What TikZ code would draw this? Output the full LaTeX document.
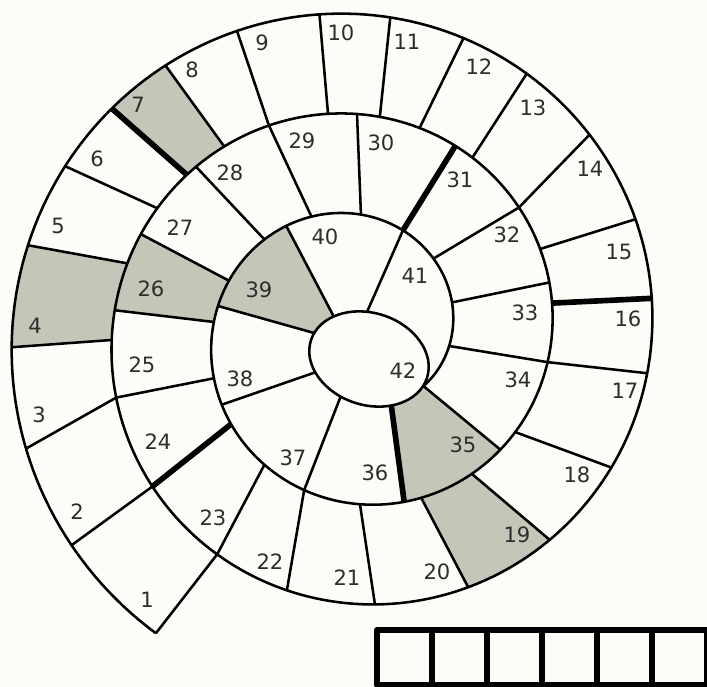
\documentclass[tikz,border=0pt]{standalone}
\usepackage{fontspec}
\setmainfont{DejaVu Sans}
\usepackage{tikz}

\definecolor{paper}{RGB}{253,253,248}
\definecolor{shaded}{RGB}{197,198,184}
\definecolor{ink}{RGB}{45,45,45}

\begin{document}
\begin{tikzpicture}[line width=1.45pt, line join=round,
                        declare function={rs(\x)=6.9-2*\x/360;
                            ex(\x)=0.24+1.22*cos(\x)*cos(18)+0.92*sin(\x)*sin(18);
                            ey(\x)=-0.50-1.22*cos(\x)*sin(18)+0.92*sin(\x)*cos(18);},
                        num/.style={font=\fontsize{12}{14}\selectfont, text=ink, inner sep=0pt},
                        heavy/.style={line width=3.2pt},
                        box/.style={line width=3.4pt}]
                        \useasboundingbox (-7.14,-7.06) rectangle (7.00,6.68);
                        \clip (-7.14,-7.06) rectangle (7.00,6.68);
                        \fill[paper] (-7.14,-7.06) rectangle (7.00,6.68);

                        % Points on the spiral
                        \coordinate (tip) at ({180-(-56.1)}:{rs(-56.1)});
                        \coordinate (o1) at ({180-(-36.5)}:{rs(-36.5)});
                        \coordinate (o2) at ({180-(-19.1)}:{rs(-19.1)});
                        \coordinate (o3) at ({180-(-2.2)}:{rs(-2.2)});
                        \coordinate (o4) at ({180-15.1}:{rs(15.1)});
                        \coordinate (o5) at ({180-29.9}:{rs(29.9)});
                        \coordinate (o6) at ({180-42.6}:{rs(42.6)});
                        \coordinate (o7) at ({180-54.5}:{rs(54.5)});
                        \coordinate (o8) at ({180-68.4}:{rs(68.4)});
                        \coordinate (o9) at ({180-83.3}:{rs(83.3)});
                        \coordinate (o10) at ({180-96.0}:{rs(96.0)});
                        \coordinate (o11) at ({180-109.8}:{rs(109.8)});
                        \coordinate (o12) at ({180-123.1}:{rs(123.1)});
                        \coordinate (o13) at ({180-139.4}:{rs(139.4)});
                        \coordinate (o14) at ({180-157.6}:{rs(157.6)});
                        \coordinate (o15) at ({180-173.1}:{rs(173.1)});
                        \coordinate (o16) at ({180-187.7}:{rs(187.7)});
                        \coordinate (o17) at ({180-207.7}:{rs(207.7)});
                        \coordinate (o18) at ({180-226.9}:{rs(226.9)});
                        \coordinate (o19) at ({180-246.3}:{rs(246.3)});
                        \coordinate (o20) at ({180-266.2}:{rs(266.2)});
                        \coordinate (o21) at ({180-285.3}:{rs(285.3)});
                        \coordinate (o22) at ({180-302.4}:{rs(302.4)});

                        \coordinate (i1) at ({180-323.3}:{rs(323.3)});
                        \coordinate (i2) at ({180-345.2}:{rs(345.2)});
                        \coordinate (i3) at ({180-358.6}:{rs(358.6)});
                        \coordinate (i4) at ({180-377.1}:{rs(377.1)});
                        \coordinate (i5) at ({180-392.2}:{rs(392.2)});
                        \coordinate (i6) at ({180-403.1}:{rs(403.1)});
                        \coordinate (i7) at ({180-414.7}:{rs(414.7)});
                        \coordinate (i8) at ({180-427.1}:{rs(427.1)});
                        \coordinate (i9) at ({180-442.5}:{rs(442.5)});
                        \coordinate (i10) at ({180-456.0}:{rs(456.0)});
                        \coordinate (i11) at ({180-466.9}:{rs(466.9)});
                        \coordinate (i12) at ({180-483.2}:{rs(483.2)});
                        \coordinate (i13) at ({180-502.0}:{rs(502.0)});
                        \coordinate (i14) at ({180-515.1}:{rs(515.1)});
                        \coordinate (i15) at ({180-531.0}:{rs(531.0)});
                        \coordinate (i16) at ({180-548.4}:{rs(548.4)});
                        \coordinate (i17) at ({180-571.8}:{rs(571.8)});
                        \coordinate (i18) at ({180-590.6}:{rs(590.6)});
                        \coordinate (i19) at ({180-608.6}:{rs(608.6)});
                        \coordinate (i20) at ({180-629.0}:{rs(629.0)});
                        \coordinate (i21) at ({180-648.7}:{rs(648.7)});
                        \coordinate (i22) at ({180-665.3}:{rs(665.3)});

                        \coordinate (o25) at ({180-365.6}:{rs(365.6)});
                        \coordinate (o26) at ({180-384.8}:{rs(384.8)});
                        \coordinate (o27) at ({180-406.1}:{rs(406.1)});
                        \coordinate (o29) at ({180-450.0}:{rs(450.0)});
                        \coordinate (o30) at ({180-477.6}:{rs(477.6)});
                        \coordinate (o32) at ({180-525.0}:{rs(525.0)});
                        \coordinate (o34) at ({180-578.9}:{rs(578.9)});
                        \coordinate (o35) at ({180-614.3}:{rs(614.3)});

                        \coordinate (i23) at ({180-684.4}:{rs(684.4)});
                        \coordinate (i24) at ({180-702.8}:{rs(702.8)});
                        \coordinate (i25) at ({180-724.8}:{rs(724.8)});
                        \coordinate (i26) at ({180-742.6}:{rs(742.6)});
                        \coordinate (i27) at ({180-765.6}:{rs(765.6)});
                        \coordinate (i28) at ({180-788.8}:{rs(788.8)});
                        \coordinate (i29) at ({180-811.9}:{rs(811.9)});
                        \coordinate (i30) at ({180-833.9}:{rs(833.9)});
                        \coordinate (i31) at ({180-855.4}:{rs(855.4)});
                        \coordinate (i32) at ({180-881.6}:{rs(881.6)});
                        \coordinate (i33) at ({180-907.4}:{rs(907.4)});
                        \coordinate (o37) at ({180-692.4}:{rs(692.4)});
                        \coordinate (o38) at ({180-731.4}:{rs(731.4)});
                        \coordinate (o39) at ({180-776.8}:{rs(776.8)});

                        % Points on the oval
                        \coordinate (e34) at ({ex(-11)},{ey(-11)});
                        \coordinate (e35) at ({ex(-54.3)},{ey(-54.3)});
                        \coordinate (e36) at ({ex(-104.6)},{ey(-104.6)});
                        \coordinate (e37) at ({ex(219.6)},{ey(219.6)});
                        \coordinate (e38) at ({ex(170.3)},{ey(170.3)});
                        \coordinate (e39) at ({ex(140.0)},{ey(140.0)});
                        \coordinate (e40) at ({ex(105.6)},{ey(105.6)});

                        % Grey cells
                        \fill[shaded] plot[domain=-2.2:15.1] ({180-\x}:{rs(\x)}) -- plot[domain=377.1:358.6] ({180-\x}:{rs(\x)}) -- cycle;
                        \fill[shaded] plot[domain=42.6:54.5] ({180-\x}:{rs(\x)}) -- plot[domain=414.7:403.1] ({180-\x}:{rs(\x)}) -- cycle;
                        \fill[shaded] plot[domain=226.9:246.3] ({180-\x}:{rs(\x)}) -- plot[domain=608.6:590.6] ({180-\x}:{rs(\x)}) -- cycle;
                        \fill[shaded] plot[domain=365.6:384.8] ({180-\x}:{rs(\x)}) -- plot[domain=742.6:724.8] ({180-\x}:{rs(\x)}) -- cycle;
                        \fill[shaded] plot[domain=578.9:614.3] ({180-\x}:{rs(\x)}) -- plot[domain=-54.3:-11] ({ex(\x)},{ey(\x)}) -- cycle;
                        \fill[shaded] plot[domain=731.4:776.8] ({180-\x}:{rs(\x)}) -- plot[domain=140:170.3] ({ex(\x)},{ey(\x)}) -- cycle;

                        % Spiral and oval
                        \draw plot[domain=-56.1:938, samples=600] ({180-\x}:{rs(\x)}) -- (e34);
                        \draw[shift={(0.24,-0.50)}, rotate=-18] (0,0) ellipse [x radius=1.22, y radius=0.92];

                        % Edges
                        \draw (tip) -- (o22) -- (i22);
                        \draw (o1) -- (i1);
                        \draw (o2) -- (i2);
                        \draw (o3) -- (i3);
                        \draw (o4) -- (i4);
                        \draw (o5) -- (i5);
                        \draw[heavy] (o6) -- (i6);
                        \draw (o7) -- (i7);
                        \draw (o8) -- (i8);
                        \draw (o9) -- (i9);
                        \draw (o10) -- (i10);
                        \draw (o11) -- (i11);
                        \draw (o12) -- (i12);
                        \draw (o13) -- (i13);
                        \draw (o14) -- (i14);
                        \draw[heavy] (o15) -- (i15);
                        \draw (o16) -- (i16);
                        \draw (o17) -- (i17);
                        \draw (o18) -- (i18);
                        \draw (o19) -- (i19);
                        \draw (o20) -- (i20);
                        \draw (o21) -- (i21);

                        \draw[heavy] (i1) -- (i23);
                        \draw (i2) -- (i24);
                        \draw (o25) -- (i25);
                        \draw (o26) -- (i26);
                        \draw (o27) -- (i27);
                        \draw (i8) -- (i28);
                        \draw (o29) -- (i29);
                        \draw[heavy] (o30) -- (i30);
                        \draw (i13) -- (i31);
                        \draw (o32) -- (i32);
                        \draw (i16) -- (i33);
                        \draw (o34) -- (e34);
                        \draw[heavy] (o35) -- (e35);
                        \draw (i21) -- (e36);

                        \draw (o37) -- (e37);
                        \draw (o38) -- (e38);
                        \draw (o39) -- (e39);
                        \draw (i30) -- (e40);

                        % Nodes
                        \node[num] (n1) at (-4.20,-5.32) {1};
                        \node[num] (n2) at (-5.60,-3.56) {2};
                        \node[num] (n3) at (-6.36,-1.62) {3};
                        \node[num] (n4) at (-6.44,0.16) {4};
                        \node[num] (n5) at (-5.98,2.16) {5};
                        \node[num] (n6) at (-5.20,3.50) {6};
                        \node[num] (n7) at (-4.38,4.58) {7};
                        \node[num] (n8) at (-3.30,5.28) {8};
                        \node[num] (n9) at (-1.90,5.82) {9};
                        \node[num] (n10) at (-0.32,6.02) {10};
                        \node[num] (n11) at (1.00,5.84) {11};
                        \node[num] (n12) at (2.44,5.34) {12};
                        \node[num] (n13) at (3.52,4.52) {13};
                        \node[num] (n14) at (4.66,3.30) {14};
                        \node[num] (n15) at (5.24,1.64) {15};
                        \node[num] (n16) at (5.42,0.30) {16};
                        \node[num] (n17) at (5.36,-1.14) {17};
                        \node[num] (n18) at (4.40,-2.82) {18};
                        \node[num] (n19) at (3.20,-4.02) {19};
                        \node[num] (n20) at (1.60,-4.76) {20};
                        \node[num] (n21) at (-0.20,-4.88) {21};
                        \node[num] (n22) at (-1.74,-4.56) {22};
                        \node[num] (n23) at (-2.88,-3.68) {23};
                        \node[num] (n24) at (-3.98,-2.16) {24};
                        \node[num] (n25) at (-4.30,-0.62) {25};
                        \node[num] (n26) at (-4.12,0.90) {26};
                        \node[num] (n27) at (-3.54,2.12) {27};
                        \node[num] (n28) at (-2.54,3.22) {28};
                        \node[num] (n29) at (-1.10,3.86) {29};
                        \node[num] (n30) at (0.48,3.82) {30};
                        \node[num] (n31) at (2.06,3.08) {31};
                        \node[num] (n32) at (3.00,1.98) {32};
                        \node[num] (n33) at (3.36,0.42) {33};
                        \node[num] (n34) at (3.22,-0.92) {34};
                        \node[num] (n35) at (2.12,-2.22) {35};
                        \node[num] (n36) at (0.36,-2.78) {36};
                        \node[num] (n37) at (-1.28,-2.48) {37};
                        \node[num] (n38) at (-2.34,-0.90) {38};
                        \node[num] (n39) at (-1.96,0.88) {39};
                        \node[num] (n40) at (-0.64,1.94) {40};
                        \node[num] (n41) at (1.16,1.16) {41};
                        \node[num] (n42) at (0.92,-0.74) {42};

                        % Score boxes
                        \draw[box] (0.40,-5.92) rectangle (1.50,-7.02);
                        \draw[box] (1.50,-5.92) rectangle (2.60,-7.02);
                        \draw[box] (2.60,-5.92) rectangle (3.70,-7.02);
                        \draw[box] (3.70,-5.92) rectangle (4.80,-7.02);
                        \draw[box] (4.80,-5.92) rectangle (5.90,-7.02);
                        \draw[box] (5.90,-5.92) rectangle (7.00,-7.02);
                    \end{tikzpicture}
\end{document}
